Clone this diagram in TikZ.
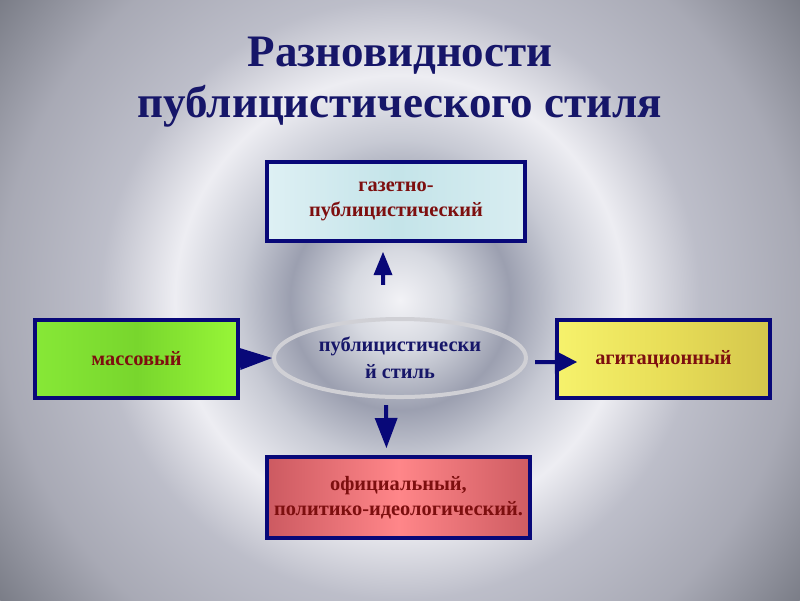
\documentclass[tikz,border=0pt]{standalone}
\usepackage{fontspec}
\setmainfont{Liberation Serif}
\usetikzlibrary{shapes.geometric, positioning, arrows.meta}

\definecolor{temno}{RGB}{8,8,120}
\definecolor{titul}{RGB}{22,22,105}
\definecolor{bordo}{RGB}{125,15,15}
\definecolor{ramka}{RGB}{208,208,213}

\pgfdeclareradialshading{fon}{\pgfpoint{0bp}{0bp}}{%
  rgb(0bp)=(0.95,0.95,0.965);
  rgb(2.5bp)=(0.84,0.85,0.88);
  rgb(5.5bp)=(0.61,0.625,0.69);
  rgb(8bp)=(0.78,0.79,0.83);
  rgb(11.25bp)=(0.93,0.93,0.95);
  rgb(15bp)=(0.74,0.745,0.79);
  rgb(20bp)=(0.66,0.665,0.71);
  rgb(25bp)=(0.48,0.49,0.53);
  rgb(50bp)=(0.48,0.49,0.53)}

\begin{document}
\begin{tikzpicture}[x=0.025cm, y=-0.025cm,
    yach/.style={draw=temno, line width=1mm, inner sep=0pt, align=center,
      font=\bfseries\fontsize{14.5}{17.7}\selectfont, text=bordo},
    strelka/.style={draw=temno, line width=1mm}]
  % Фон
  \useasboundingbox (0,0) rectangle (800,600);
  \begin{scope}
    \clip (0,0) rectangle (800,600);
    \shade[shading=fon] (400,300) circle (12.5cm);
  \end{scope}
  % Заголовок
  \node[font=\bfseries\fontsize{32}{36}\selectfont, text=titul, align=center]
    (zag) at (400,82) {Разновидности\\публицистического стиля};
  % Центральный овал
  \node[ellipse, draw=ramka, line width=1mm, minimum width=6.3cm,
    minimum height=1.95cm, inner sep=0pt, align=center, text=titul,
    font=\bfseries\fontsize{14.5}{19}\selectfont]
    (stil) at (400,358) {публицистически\\й стиль};
  % Разновидности
  \node[yach, minimum width=6.45cm, minimum height=1.975cm,
    left color={rgb,255:red,222;green,240;blue,244},
    right color={rgb,255:red,216;green,237;blue,241},
    middle color={rgb,255:red,196;green,228;blue,233}]
    (gaz) at (396,201.5) {газетно-\\публицистический};
  \node[yach, minimum width=5.075cm, minimum height=1.95cm,
    left color={rgb,255:red,135;green,232;blue,55},
    right color={rgb,255:red,152;green,246;blue,56},
    middle color={rgb,255:red,120;green,214;blue,45}]
    (mass) at (136.5,359) {массовый};
  \node[yach, minimum width=5.325cm, minimum height=1.95cm,
    left color={rgb,255:red,246;green,242;blue,108},
    right color={rgb,255:red,212;green,198;blue,76},
    middle color={rgb,255:red,232;green,222;blue,88}]
    (agit) at (663.5,359) {агитационный};
  \node[yach, minimum width=6.575cm, minimum height=2.025cm,
    left color={rgb,255:red,204;green,90;blue,97},
    right color={rgb,255:red,206;green,92;blue,98},
    middle color={rgb,255:red,255;green,134;blue,137}]
    (ofic) at (398.5,497.5) {официальный,\\политико-идеологический.};
  % Стрелки
  \draw[strelka, -{Triangle[length=0.575cm, width=0.475cm, line width=0pt]},
    shorten <=0.8cm, shorten >=0.225cm]
    ([xshift=-0.425cm]stil.north) -- ([xshift=-0.325cm]gaz.south);
  \draw[strelka, -{Triangle[length=0.75cm, width=0.575cm, line width=0pt]},
    shorten <=0.15cm, shorten >=0.175cm]
    ([xshift=-0.35cm]stil.south) -- ([xshift=-0.3cm]ofic.north);
  \draw[strelka, -{Triangle[length=0.8cm, width=0.55cm, line width=0pt]}]
    (mass.east) -- (stil.west);
  \draw[strelka, -{Triangle[length=0.55cm, width=0.575cm, line width=0pt]},
    shorten <=0.175cm]
    ([yshift=-0.1cm]stil.east) -- ([xshift=0.55cm, yshift=-0.075cm]agit.west);
\end{tikzpicture}
\end{document}
